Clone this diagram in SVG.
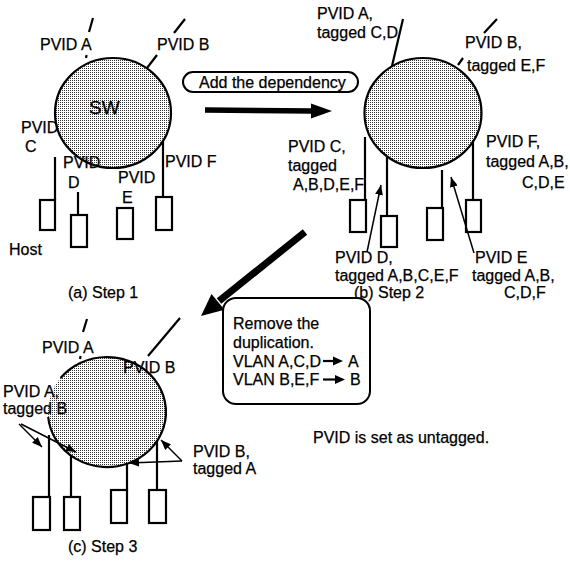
<svg xmlns="http://www.w3.org/2000/svg" width="570" height="563" viewBox="0 0 570 563">
<defs>
<style>
text { font-family: "Liberation Sans", Arial, Helvetica, sans-serif; font-size: 16px; fill: #000; stroke: #000; stroke-width: 0.25; }
.sw-label { font-size: 19px; }
.ln { stroke: #000; stroke-width: 2.2; fill: none; }
.host { fill: #fff; stroke: #000; stroke-width: 2.2; }
.sw { fill: url(#dots); stroke: #000; stroke-width: 2.2; }
.swfill { fill: url(#dots); stroke: none; }
.arr { stroke: #000; stroke-width: 1.5; fill: none; marker-end: url(#ah); }
.thick { stroke: #000; fill: none; }
.head { fill: #000; stroke: none; }
.box { fill: #fff; stroke: #000; stroke-width: 2; }
</style>
<pattern id="dots" width="2" height="2" patternUnits="userSpaceOnUse">
<rect width="2" height="2" fill="#fff"/>
<rect width="1" height="1" fill="#333"/>
</pattern>
<marker id="ah" viewBox="0 0 10 8" refX="10" refY="4" markerWidth="10" markerHeight="8" markerUnits="userSpaceOnUse" orient="auto">
<path d="M0,0 L10,4 L0,8 z" fill="#000"/>
</marker>
</defs>

<!-- Step 1 -->
<g id="step1">
<ellipse id="sw1" class="sw" cx="113" cy="113" rx="58" ry="55"/>
<text class="sw-label" x="89" y="114">SW</text>
<g id="s1-portA"><line class="ln" x1="93" y1="18" x2="89" y2="32"/><line class="ln" x1="86.6" y1="55" x2="86" y2="58"/><text x="40" y="50">PVID A</text></g>
<g id="s1-portB"><line class="ln" x1="185" y1="19" x2="174" y2="33"/><line class="ln" x1="157" y1="55" x2="147" y2="68"/><text x="157" y="50">PVID B</text></g>
<g id="s1-hostC"><line class="ln" x1="55" y1="157" x2="55" y2="200"/><rect class="host" x="40" y="200" width="15" height="30"/><text x="21" y="133">PVID</text><text x="25" y="152">C</text></g>
<g id="s1-hostD"><line class="ln" x1="78" y1="192" x2="78" y2="215"/><rect class="host" x="71" y="215" width="16" height="32"/><text x="63" y="168">PVID</text><text x="68" y="188">D</text></g>
<g id="s1-hostE"><rect class="host" x="117" y="208" width="16" height="31"/><text x="118" y="183">PVID</text><text x="122" y="203">E</text></g>
<g id="s1-hostF"><line class="ln" x1="163" y1="141" x2="163" y2="197"/><rect class="host" x="156" y="197" width="16" height="33"/><text x="165" y="167">PVID F</text></g>
<text x="9" y="255">Host</text>
<text x="68" y="298">(a) Step 1</text>
</g>

<!-- Add dependency -->
<g id="add-dependency">
<rect class="box" x="183" y="72" width="175" height="20" rx="10"/>
<text x="199" y="88">Add the dependency</text>
</g>

<!-- Step 2 -->
<g id="step2">
<ellipse id="sw2" class="sw" cx="423" cy="113" rx="58.5" ry="55"/>
<g id="s2-portA"><line class="ln" x1="403" y1="19" x2="392" y2="66"/><text x="317" y="19">PVID A,</text><text x="317" y="38">tagged C,D</text></g>
<g id="s2-portB"><line class="ln" x1="497" y1="19" x2="484" y2="33"/><line class="ln" x1="463" y1="58" x2="458" y2="65"/><text x="465" y="48">PVID B,</text><text x="467" y="71">tagged E,F</text></g>
<g id="s2-hostC"><line class="ln" x1="365" y1="137" x2="365" y2="200"/><rect class="host" x="350" y="200" width="16" height="32"/><text x="288" y="152">PVID C,</text><text x="288" y="171">tagged</text><text x="293" y="190">A,B,D,E,F</text></g>
<g id="s2-hostD"><line class="ln" x1="387" y1="157" x2="387" y2="216"/><rect class="host" x="381" y="216" width="16" height="31"/><text x="335" y="263">PVID D,</text><text x="335" y="281">tagged A,B,C,E,F</text></g>
<g id="s2-hostE"><line class="ln" x1="442" y1="170" x2="442" y2="208"/><rect class="host" x="427" y="208" width="16" height="32"/><text x="475" y="263">PVID E</text><text x="472" y="281">tagged A,B,</text><text x="504" y="298">C,D,F</text></g>
<g id="s2-hostF"><line class="ln" x1="473" y1="142" x2="473" y2="200"/><rect class="host" x="466" y="200" width="15" height="32"/><text x="486" y="147">PVID F,</text><text x="486" y="167">tagged A,B,</text><text x="522" y="188">C,D,E</text></g>
<text x="354" y="298">(b)  Step 2</text>
</g>

<!-- Remove box -->
<g id="remove-duplication">
<rect class="box" x="223" y="298" width="147" height="106" rx="13"/>
<text x="233" y="329">Remove the</text>
<text x="233" y="348">duplication.</text>
<text x="233" y="366.5">VLAN A,C,D</text>
<line class="ln" x1="323" y1="361" x2="334" y2="361" stroke-width="2"/>
<polygon class="head" points="333,356.5 343,361 333,365.5"/>
<text x="348" y="366.5">A</text>
<text x="233" y="385">VLAN B,E,F</text>
<line class="ln" x1="323" y1="379.5" x2="336" y2="379.5" stroke-width="2"/>
<polygon class="head" points="335,375 345,379.5 335,384"/>
<text x="350" y="385">B</text>
</g>

<!-- Step 3 -->
<g id="step3">
<ellipse id="sw3" class="swfill" cx="107" cy="412" rx="59" ry="55"/>
<path class="ln" d="M 60.6 378 A 59 55 0 1 1 48.2 417"/>
<g id="s3-portA"><line class="ln" x1="87" y1="319" x2="83" y2="332"/><line class="ln" x1="80.6" y1="356" x2="80" y2="359"/><text x="42" y="353">PVID A</text></g>
<g id="s3-portB"><line class="ln" x1="180" y1="318" x2="148" y2="356"/><text x="123" y="373">PVID B</text></g>
<g id="s3-host1"><line class="ln" x1="49" y1="435" x2="49" y2="497"/><rect class="host" x="33" y="497" width="17" height="33"/></g>
<g id="s3-host2"><line class="ln" x1="71" y1="456" x2="71" y2="497"/><rect class="host" x="64" y="497" width="16" height="33"/></g>
<g id="s3-host3"><line class="ln" x1="127" y1="463" x2="127" y2="490"/><rect class="host" x="111" y="490" width="16" height="33"/></g>
<g id="s3-host4"><line class="ln" x1="157" y1="441" x2="157" y2="490"/><rect class="host" x="149" y="490" width="17" height="33"/></g>
<text x="3" y="397">PVID A,</text>
<text x="3" y="414">tagged B</text>
<text x="193" y="457">PVID B,</text>
<text x="193" y="474">tagged A</text>
<text x="68" y="552">(c) Step 3</text>
</g>

<text id="note" x="313" y="443">PVID is set as untagged.</text>

<!-- Connectors -->
<g id="connectors">
<line class="thick" x1="205" y1="110" x2="313" y2="111" stroke-width="5.5"/>
<polygon class="head" points="311,103.5 332,111 311,118.5"/>
<line class="thick" x1="305" y1="232" x2="219" y2="301" stroke-width="7"/>
<polygon class="head" points="201,316 224.5,309.8 211.5,294"/>
<line class="arr" x1="367" y1="252" x2="381" y2="185"/>
<line class="arr" x1="474" y1="253" x2="451" y2="177"/>
<line class="arr" x1="19" y1="424" x2="42" y2="447"/>
<line class="arr" x1="21" y1="424" x2="76" y2="452"/>
<line class="arr" x1="182" y1="461" x2="129" y2="463"/>
<line class="arr" x1="182" y1="461" x2="161" y2="440"/>
</g>
</svg>
